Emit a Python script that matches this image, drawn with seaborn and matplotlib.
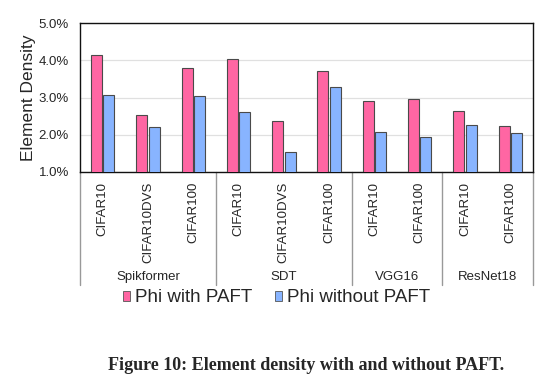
import matplotlib
matplotlib.use("Agg")
import matplotlib.pyplot as plt
import matplotlib.transforms as mtransforms
from matplotlib.patches import Patch
import seaborn as sns
import pandas as pd

models = ["Spikformer", "Spikformer", "Spikformer", "SDT", "SDT", "SDT",
          "VGG16", "VGG16", "ResNet18", "ResNet18"]
datasets = ["CIFAR10", "CIFAR10DVS", "CIFAR100", "CIFAR10", "CIFAR10DVS", "CIFAR100",
            "CIFAR10", "CIFAR100", "CIFAR10", "CIFAR100"]
with_paft = [4.13, 2.52, 3.80, 4.03, 2.37, 3.71, 2.91, 2.95, 2.64, 2.23]
without_paft = [3.06, 2.22, 3.03, 2.62, 1.53, 3.28, 2.08, 1.93, 2.27, 2.05]
series = ["Phi with PAFT", "Phi without PAFT"]
colors = ["#FF66A3", "#88B4FF"]

keys = [f"{m}|{d}" for m, d in zip(models, datasets)]
df = pd.DataFrame({
    "key": keys * 2,
    "value": with_paft + without_paft,
    "series": [series[0]] * len(keys) + [series[1]] * len(keys),
})

sns.set_theme(style="white")
plt.rcParams["font.family"] = ["Liberation Sans", "DejaVu Sans"]

fig = plt.figure(figsize=(5.44, 3.88), dpi=100)
ax = fig.add_axes([80 / 544, 1 - 172 / 388, 453 / 544, 149 / 388])

sns.barplot(data=df, x="key", y="value", hue="series", order=keys,
            hue_order=series, palette=colors, saturation=1, width=0.55, gap=0.12,
            edgecolor="#4a4a4a", linewidth=0.8, ax=ax, legend=False, zorder=3)

ax.set_ylim(1.0, 5.0)
ax.set_xlim(-0.5, len(keys) - 0.5)
ax.set_yticks([1.0, 2.0, 3.0, 4.0, 5.0])
ax.set_yticklabels([f"{v:.1f}%" for v in [1.0, 2.0, 3.0, 4.0, 5.0]], fontsize=9.5)
ax.yaxis.grid(True, color="#E0E0E0", linewidth=0.9, zorder=0)
ax.set_axisbelow(True)
ax.tick_params(axis="y", length=0, pad=8)
ax.set_ylabel("Element Density", fontsize=12.5, labelpad=2)
ax.set_xlabel("")
for s in ax.spines.values():
    s.set_visible(True)
    s.set_color("#111111")
    s.set_linewidth(1.0)

ax.set_xticks(range(len(keys)))
ax.set_xticklabels(datasets, rotation=90, fontsize=9.5, va="top", ha="center")
ax.tick_params(axis="x", length=0, pad=7)

trans = mtransforms.blended_transform_factory(ax.transData, ax.transAxes)
# group separators and group labels
groups = []
for i, m in enumerate(models):
    if not groups or groups[-1][0] != m:
        groups.append([m, i, i])
    else:
        groups[-1][2] = i
bounds = [-0.5] + [g[2] + 0.5 for g in groups]
for b in bounds:
    ax.plot([b, b], [0, -0.76], transform=trans, color="#999999",
            linewidth=1.0, clip_on=False, zorder=1)
for m, s, e in groups:
    ax.text((s + e) / 2, -0.705, m, transform=trans, ha="center", va="center",
            fontsize=9.5)

handles = [Patch(facecolor=c, edgecolor="#555555", linewidth=0.6) for c in colors]
fig.legend(handles, series, loc="center", bbox_to_anchor=(276.5 / 544, 1 - 298 / 388),
           ncol=2, frameon=False, fontsize=13.5, handlelength=0.4, handleheight=0.4,
           handletextpad=0.25, columnspacing=1.2, borderpad=0)

fig.text(306 / 544, 1 - 365 / 388, "Figure 10: Element density with and without PAFT.",
         ha="center", va="center", fontsize=13, fontweight="bold",
         family=["Liberation Serif", "DejaVu Serif"])

fig.savefig("out.png", dpi=100)
